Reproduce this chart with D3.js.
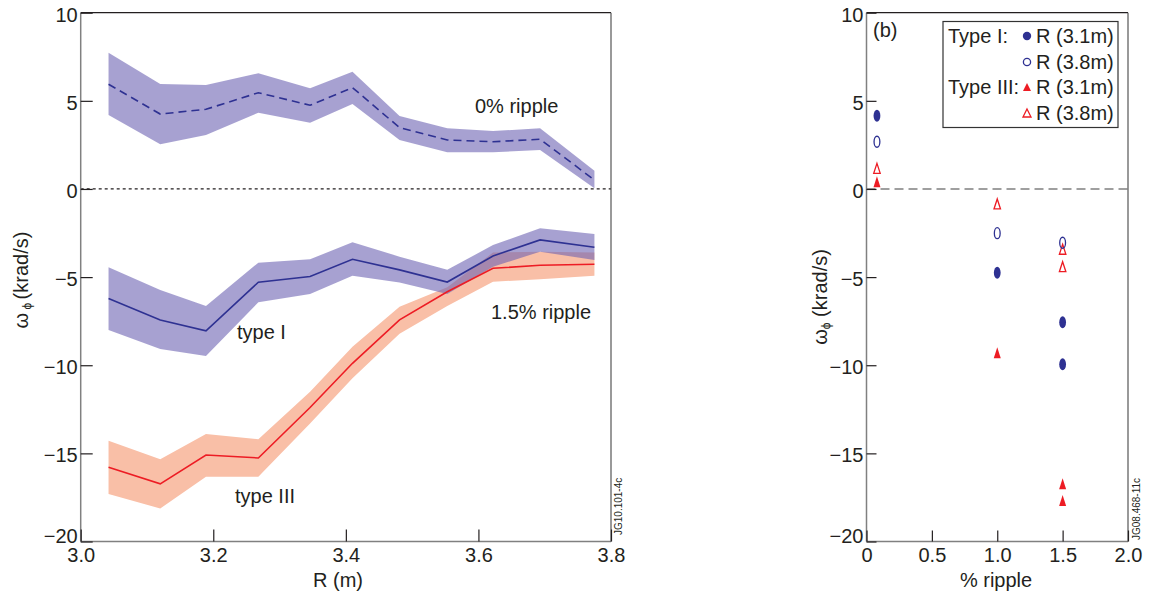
<!DOCTYPE html>
<html>
<head>
<meta charset="utf-8">
<script src="https://cdn.jsdelivr.net/npm/d3@7"></script>
<style>
  body { margin: 0; background: #fff; }
  svg text { font-family: "Liberation Sans", Arial, sans-serif; fill: #231f20; }
</style>
</head>
<body>
<svg id="chart" width="1149" height="599"></svg>
<script>
// ---- panel (a): rotation vs major radius ----
const rPos = [3.042, 3.120, 3.189, 3.268, 3.346, 3.410, 3.481, 3.553, 3.622, 3.693, 3.775];

const ripple0Mid = [5.94, 4.25, 4.52, 5.46, 4.75, 5.75, 3.48, 2.78, 2.68, 2.82, 0.51];
const ripple0Hi = [7.73, 5.96, 5.90, 6.56, 5.71, 6.65, 4.14, 3.44, 3.29, 3.44, 1.04];
const ripple0Lo = [4.20, 2.54, 3.06, 4.33, 3.76, 4.82, 2.78, 2.08, 2.08, 2.21, 0.04];

const typeIMid = [-6.22, -7.43, -8.05, -5.29, -4.97, -3.99, -4.59, -5.28, -3.80, -2.89, -3.31];
const typeIHi = [-4.44, -5.73, -6.64, -4.18, -3.99, -3.02, -3.84, -4.59, -3.18, -2.23, -2.55];
const typeILo = [-8.00, -9.08, -9.47, -6.43, -5.96, -4.93, -5.31, -5.96, -4.41, -3.56, -4.03];

const typeIIIMid = [-15.79, -16.73, -15.09, -15.26, -12.4, -9.89, -7.43, -5.83, -4.50, -4.33, -4.27];
const typeIIIHi = [-14.28, -15.33, -13.90, -14.20, -11.5, -8.95, -6.68, -5.58, -3.61, -3.56, -3.61];
const typeIIILo = [-17.30, -18.13, -16.32, -16.32, -13.3, -10.74, -8.22, -6.64, -5.26, -5.12, -4.93];

const rTicks = [3.0, 3.2, 3.4, 3.6, 3.8];
const rTickLabels = ["3.0", "3.2", "3.4", "3.6", "3.8"];
const omegaTicks = [10, 5, 0, -5, -10, -15, -20];

// ---- panel (b): rotation vs ripple ----
const typeI31x = [0.08, 1.0, 1.5, 1.5];
const typeI31y = [4.16, -4.75, -7.56, -9.94];
const typeI38x = [0.08, 1.0, 1.5];
const typeI38y = [2.68, -2.51, -3.05];
const typeIII31x = [0.08, 1.0, 1.5, 1.5];
const typeIII31y = [0.41, -9.29, -16.73, -17.68];
const typeIII38x = [0.08, 1.0, 1.5, 1.5];
const typeIII38y = [1.17, -0.85, -3.42, -4.41];

const rippleTicks = [0, 0.5, 1.0, 1.5, 2.0];
const rippleTickLabels = ["0", "0.5", "1.0", "1.5", "2.0"];

const navy = "#2e3192";
const red = "#ed1c24";

const svg = d3.select("#chart");

const yA = d3.scaleLinear().domain([-20, 10]).range([541.5, 12.7]);
const xA = d3.scaleLinear().domain([3.0, 3.8]).range([80.7, 611]);
const xB = d3.scaleLinear().domain([0, 2]).range([866.5, 1128]);
const yB = yA.copy();

function styleAxis(g) {
  g.select(".domain").remove();
  g.selectAll(".tick line").attr("stroke", "#231f20").attr("stroke-width", 1.2);
  g.selectAll(".tick text").attr("font-size", 20).attr("fill", "#231f20");
}

// y labels sit a little low, except the bottom one which is lifted clear of the x labels
function nudgeY(g) {
  g.selectAll(".tick text").attr("dy", (d) => (d === -20 ? "0.05em" : "0.42em"));
}

function frame(x, y) {
  const [x0, x1] = x.range();
  const [y0, y1] = [y.range()[1], y.range()[0]];
  // left and bottom edges are lighter in the original
  svg.append("line").attr("x1", x0).attr("x2", x0).attr("y1", y0).attr("y2", y1)
    .attr("stroke", "#808080").attr("stroke-width", 1.5);
  svg.append("line").attr("x1", x0).attr("x2", x1).attr("y1", y1).attr("y2", y1)
    .attr("stroke", "#808080").attr("stroke-width", 1.5);
  svg.append("line").attr("x1", x0).attr("x2", x1).attr("y1", y0).attr("y2", y0)
    .attr("stroke", "#231f20").attr("stroke-width", 1.2);
  svg.append("line").attr("x1", x1).attr("x2", x1).attr("y1", y0).attr("y2", y1)
    .attr("stroke", "#555").attr("stroke-width", 1.2);
}

// ================= panel (a) =================
const band = (lo, hi) => d3.area()
  .x((d, i) => xA(rPos[i]))
  .y0((d, i) => yA(lo[i]))
  .y1((d, i) => yA(hi[i]));
const midLine = d3.line().x((d, i) => xA(rPos[i])).y((d) => yA(d));

svg.append("path").attr("d", band(ripple0Lo, ripple0Hi)(rPos))
  .attr("fill", "#6c62b2").attr("fill-opacity", 0.6);
svg.append("path").attr("d", band(typeIIILo, typeIIIHi)(rPos))
  .attr("fill", "#f9bfa7");
svg.append("path").attr("d", band(typeILo, typeIHi)(rPos))
  .attr("fill", "#6c62b2").attr("fill-opacity", 0.6);

svg.append("line")
  .attr("x1", xA(3.0)).attr("x2", xA(3.8)).attr("y1", yA(0)).attr("y2", yA(0))
  .attr("stroke", "#231f20").attr("stroke-width", 1.3).attr("stroke-dasharray", "3,3");

svg.append("path").attr("d", midLine(ripple0Mid)).attr("fill", "none")
  .attr("stroke", navy).attr("stroke-width", 1.6).attr("stroke-dasharray", "8,5");
svg.append("path").attr("d", midLine(typeIIIMid)).attr("fill", "none")
  .attr("stroke", red).attr("stroke-width", 1.6);
svg.append("path").attr("d", midLine(typeIMid)).attr("fill", "none")
  .attr("stroke", navy).attr("stroke-width", 1.6);

frame(xA, yA);

svg.append("g").attr("transform", `translate(${xA.range()[0]},0)`)
  .call(d3.axisLeft(yA).tickValues(omegaTicks).tickSize(-12).tickPadding(3).tickFormat(d3.format("d")))
  .call(styleAxis)
  .call(nudgeY);
svg.append("g").attr("transform", `translate(0,${yA.range()[0]})`)
  .call(d3.axisBottom(xA).tickValues(rTicks).tickSize(-12).tickPadding(6)
    .tickFormat((d, i) => rTickLabels[i]))
  .call(styleAxis);

const notes = [
  { t: "0% ripple", x: 475, y: 113 },
  { t: "type I", x: 237, y: 339 },
  { t: "1.5% ripple", x: 491, y: 319 },
  { t: "type III", x: 235, y: 503 },
];
svg.selectAll("text.note").data(notes).join("text").attr("class", "note")
  .attr("x", (d) => d.x).attr("y", (d) => d.y).attr("font-size", 20).text((d) => d.t);

svg.append("text").attr("transform", "translate(338,587)").attr("text-anchor", "middle")
  .attr("font-size", 20).text("R (m)");

const yTitleA = svg.append("text").attr("transform", "translate(28,280) rotate(-90)")
  .attr("text-anchor", "middle").attr("font-size", 20);
yTitleA.append("tspan").text("ω");
yTitleA.append("tspan").attr("font-size", 12).attr("dy", 3).text(" ϕ ");
yTitleA.append("tspan").attr("dy", -3).text("(krad/s)");

svg.append("text").attr("transform", "translate(622,535) rotate(-90)")
  .attr("font-size", 10).text("JG10.101-4c");

// ================= panel (b) =================
svg.append("line")
  .attr("x1", xB(0)).attr("x2", xB(2)).attr("y1", yB(0)).attr("y2", yB(0))
  .attr("stroke", "#808080").attr("stroke-width", 1.6).attr("stroke-dasharray", "9,5");

frame(xB, yB);

svg.append("g").attr("transform", `translate(${xB.range()[0]},0)`)
  .call(d3.axisLeft(yB).tickValues(omegaTicks).tickSize(-10).tickPadding(3).tickFormat(d3.format("d")))
  .call(styleAxis)
  .call(nudgeY);
svg.append("g").attr("transform", `translate(0,${yB.range()[0]})`)
  .call(d3.axisBottom(xB).tickValues(rippleTicks).tickSize(-11).tickPadding(6)
    .tickFormat((d, i) => rippleTickLabels[i]))
  .call(styleAxis);

// tall ellipse & triangle markers
const triPath = (w, h) => `M0,${-h / 2}L${w / 2},${h / 2}L${-w / 2},${h / 2}Z`;

function ellipses(xs, ys, filled) {
  svg.append("g").selectAll("ellipse").data(xs).join("ellipse")
    .attr("cx", (d) => xB(d)).attr("cy", (d, i) => yB(ys[i]))
    .attr("rx", filled ? 3.4 : 2.9).attr("ry", filled ? 6 : 5.5)
    .attr("fill", filled ? navy : "none")
    .attr("stroke", navy).attr("stroke-width", filled ? 0 : 1.3);
}
function triangles(xs, ys, filled) {
  svg.append("g").selectAll("path").data(xs).join("path")
    .attr("transform", (d, i) => `translate(${xB(d)},${yB(ys[i])})`)
    .attr("d", filled ? triPath(7, 11) : triPath(6.5, 10))
    .attr("fill", filled ? red : "none")
    .attr("stroke", red).attr("stroke-width", filled ? 0 : 1.3);
}

triangles(typeIII31x, typeIII31y, true);
triangles(typeIII38x, typeIII38y, false);
ellipses(typeI31x, typeI31y, true);
ellipses(typeI38x, typeI38y, false);

svg.append("text").attr("x", 873).attr("y", 37).attr("font-size", 20).text("(b)");

// legend
const legendGroups = ["Type I:", "", "Type III:", ""];
const legendLabels = ["R (3.1m)", "R (3.8m)", "R (3.1m)", "R (3.8m)"];
const legendBaselines = [43, 69, 94, 120];

svg.append("rect").attr("x", 943).attr("y", 21.5).attr("width", 175).attr("height", 106)
  .attr("fill", "#fff").attr("stroke", "#333").attr("stroke-width", 1.2);

legendLabels.forEach((lab, i) => {
  const by = legendBaselines[i];
  if (legendGroups[i]) {
    svg.append("text").attr("x", 948).attr("y", by).attr("font-size", 20).text(legendGroups[i]);
  }
  svg.append("text").attr("x", 1036).attr("y", by).attr("font-size", 20).text(lab);
  const cy = by - 7;
  if (i < 2) {
    svg.append("circle").attr("cx", 1027).attr("cy", cy).attr("r", i === 0 ? 4.2 : 3.6)
      .attr("fill", i === 0 ? navy : "none").attr("stroke", navy)
      .attr("stroke-width", i === 0 ? 0 : 1.3);
  } else {
    svg.append("path").attr("transform", `translate(1027,${cy})`)
      .attr("d", triPath(8, 8))
      .attr("fill", i === 2 ? red : "none").attr("stroke", red)
      .attr("stroke-width", i === 2 ? 0 : 1.3);
  }
});

svg.append("text").attr("transform", "translate(996,587)").attr("text-anchor", "middle")
  .attr("font-size", 20).text("% ripple");

const yTitleB = svg.append("text").attr("transform", "translate(827,297) rotate(-90)")
  .attr("text-anchor", "middle").attr("font-size", 20);
yTitleB.append("tspan").text("ω");
yTitleB.append("tspan").attr("font-size", 12).attr("dy", 3).text("ϕ");
yTitleB.append("tspan").attr("dy", -3).text(" (krad/s)");

svg.append("text").attr("transform", "translate(1140,540) rotate(-90)")
  .attr("font-size", 10).text("JG08.468-11c");
</script>
</body>
</html>
